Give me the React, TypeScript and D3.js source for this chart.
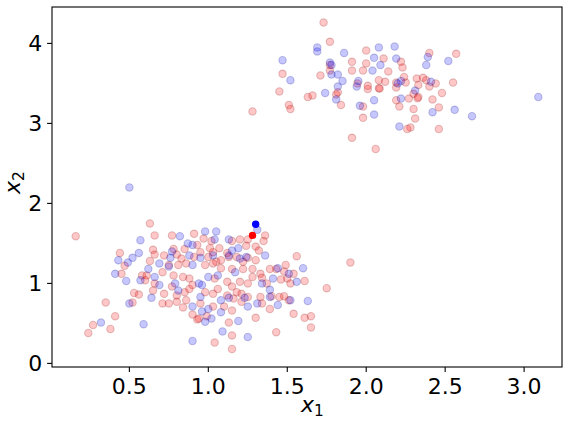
import React from 'react';
import * as d3 from 'd3';

// ---- data ----
const redPoints: [number, number][] = [
  // upper cluster
  [1.73,4.26],[1.77,4.02],[1.47,3.62],[1.45,3.40],[1.28,3.15],[1.51,3.23],[1.52,3.18],[1.63,3.33],[1.66,3.35],[1.71,3.60],
  [1.77,3.66],[1.77,3.73],[1.81,3.36],[1.82,3.39],[1.84,3.23],[1.91,3.77],[1.91,3.66],[2.00,3.91],[2.00,3.75],[1.98,3.66],
  [2.01,3.43],[2.01,3.47],[2.08,3.44],[2.085,3.435],[2.08,3.54],[2.11,3.81],[2.14,3.65],[2.12,3.52],[1.98,3.21],[1.98,3.07],
  [1.91,2.82],[2.06,2.68],[2.40,3.88],[2.57,3.87],[2.22,3.77],[2.23,3.70],[2.24,3.58],[2.19,3.51],[2.19,3.45],[2.25,3.51],
  [2.32,3.56],[2.36,3.57],[2.38,3.54],[2.44,3.50],[2.40,3.46],[2.33,3.48],[2.55,3.51],[2.48,3.38],[2.30,3.37],[2.33,3.33],
  [2.325,3.315],[2.19,3.29],[2.27,3.31],[2.42,3.30],[2.21,3.21],[2.30,3.18],[2.46,3.20],[2.31,3.06],[2.28,2.95],[2.26,2.93],
  [2.46,2.93],[1.945,3.50],
  // lower cluster
  [0.16,1.59],[0.63,1.75],[0.66,1.60],[0.44,1.38],[0.47,1.22],[0.65,1.42],[0.66,1.36],[0.63,1.28],[0.45,1.12],[0.58,1.10],
  [0.61,1.10],[0.60,1.04],[0.66,1.00],[0.53,0.88],[0.56,0.86],[0.65,0.91],[0.52,0.76],[0.35,0.76],[0.41,0.59],[0.27,0.48],
  [0.24,0.38],[0.38,0.43],[0.90,0.61],[0.93,0.55],[0.84,0.70],[0.91,1.62],[0.97,1.56],[1.15,1.53],[1.20,1.55],[1.25,1.55],
  [1.36,1.60],[1.35,1.53],[0.77,1.60],[0.78,1.43],[0.93,1.48],[1.01,1.44],[1.07,1.44],[1.24,1.47],[1.30,1.46],[1.32,1.41],
  [0.85,1.43],[0.95,1.39],[1.03,1.39],[1.12,1.38],[1.18,1.33],[1.25,1.32],[0.72,1.35],[0.80,1.36],[0.83,1.31],[0.91,1.33],
  [1.00,1.33],[1.05,1.27],[1.08,1.29],[0.75,1.23],[0.81,1.23],[0.86,1.25],[0.98,1.23],[1.03,1.25],[1.08,1.19],[1.15,1.18],
  [1.22,1.18],[1.28,1.18],[1.33,1.12],[1.34,1.07],[1.39,1.18],[1.43,1.18],[1.49,1.23],[1.48,1.15],[1.54,1.12],[0.71,1.14],
  [0.78,1.10],[0.84,1.08],[0.88,1.06],[0.90,0.98],[1.04,1.06],[1.12,1.02],[1.15,0.96],[1.20,1.02],[1.25,1.00],[1.18,0.89],
  [1.21,0.87],[1.28,1.08],[1.37,1.00],[0.72,0.87],[0.77,0.96],[0.85,0.89],[0.80,0.85],[0.88,0.93],[0.98,0.89],[1.03,0.87],
  [1.06,0.93],[1.12,0.85],[1.16,0.81],[1.25,0.83],[1.34,0.75],[1.45,0.83],[1.51,0.79],[0.71,0.75],[0.75,0.75],[0.80,0.77],
  [0.86,0.79],[0.95,0.75],[1.03,0.71],[1.15,0.66],[1.39,0.68],[1.56,1.34],[1.61,0.57],[1.30,0.57],[1.13,0.51],[1.15,0.35],
  [1.43,0.39],[1.04,0.26],[1.15,0.18],[0.94,0.56],[0.99,0.59],[1.54,0.62],[1.90,1.26],[1.61,1.03],[1.75,0.94],[1.65,0.59],
  [1.65,0.45],[1.02,1.53],[1.33,0.83],[1.40,0.84],[1.48,0.84],[1.21,0.77],[1.10,0.71],[1.46,1.05],[1.50,1.06],[1.52,1.00],
  [1.13,1.33],[1.30,1.29],[1.22,1.27],
];

const bluePoints: [number, number][] = [
  // upper cluster
  [1.47,3.79],[1.52,3.54],[1.69,3.95],[1.69,3.90],[1.86,3.88],[1.77,3.76],[1.78,3.73],[1.78,3.61],[1.82,3.61],[1.85,3.53],
  [1.82,3.46],[1.74,3.38],[1.81,3.30],[1.95,3.53],[1.94,3.46],[1.96,3.22],[2.05,3.29],[2.05,3.11],[2.04,3.66],[2.05,3.82],
  [2.08,3.95],[2.09,3.73],[2.18,3.96],[2.19,3.81],[2.39,3.83],[2.38,3.73],[2.52,3.78],[2.20,3.50],[2.22,3.53],[2.41,3.52],
  [2.31,3.41],[2.22,3.31],[2.42,3.14],[2.56,3.17],[2.67,3.09],[3.09,3.33],[2.21,2.96],
  // lower cluster
  [0.50,2.20],[0.57,1.54],[0.43,1.29],[0.56,1.38],[0.52,1.32],[0.49,1.26],[0.69,1.25],[0.62,1.18],[0.41,1.12],[0.48,1.03],
  [0.57,1.04],[0.66,1.08],[0.69,0.98],[0.64,0.82],[0.50,0.75],[0.32,0.51],[0.59,0.49],[0.90,0.28],[0.82,1.59],[1.04,1.55],
  [1.13,1.55],[0.87,1.50],[0.90,1.48],[1.19,1.44],[1.36,1.35],[1.13,1.35],[1.20,1.31],[0.76,1.32],[0.88,1.35],[0.95,1.32],
  [1.03,1.35],[0.75,1.21],[0.90,1.23],[1.17,1.14],[1.34,1.00],[1.44,1.19],[1.51,1.12],[0.79,1.00],[0.94,1.00],[0.96,0.98],
  [1.00,1.08],[1.06,1.10],[1.41,1.06],[0.81,0.91],[0.95,0.83],[1.08,0.79],[1.31,0.75],[1.39,0.83],[1.52,0.79],[0.90,0.71],
  [1.00,0.68],[1.08,0.64],[1.44,0.73],[1.31,1.67],[0.98,1.65],[1.05,1.65],[1.60,1.19],[1.19,0.53],[1.09,0.40],[1.25,0.33],
  [1.02,0.56],[0.98,0.52],[1.63,0.78],[0.77,1.40],[1.15,1.41],[1.24,1.33],[0.96,0.65],[1.25,0.71],[1.23,0.82],[1.13,0.82],
  [1.56,1.02],[1.39,0.92],
];

const highlightBlue: [number, number] = [1.30, 1.74];
const highlightRed: [number, number] = [1.28, 1.60];

const xTicks = [0.5, 1.0, 1.5, 2.0, 2.5, 3.0];
const xTickLabels = ['0.5', '1.0', '1.5', '2.0', '2.5', '3.0'];
const yTicks = [0, 1, 2, 3, 4];
const yTickLabels = ['0', '1', '2', '3', '4'];

// ---- layout ----
const W = 568;
const H = 424;
const left = 52, right = 562, top = 7, bottom = 367;
const FONT = 'DejaVu Sans, sans-serif';

export default function App() {
  const x = d3.scaleLinear().domain([0.01, 3.24]).range([left, right]);
  const y = d3.scaleLinear().domain([-0.045, 4.455]).range([bottom, top]);
  const r = 3.7;
  const tickLen = 4.9;

  return (
    <svg width={W} height={H} style={{ position: 'absolute', left: 0, top: 0, background: '#fff' }}>
      <defs>
        <clipPath id="plotclip">
          <rect x={left} y={top} width={right - left} height={bottom - top} />
        </clipPath>
      </defs>
      <rect x={0} y={0} width={W} height={H} fill="#fff" />
      <g clipPath="url(#plotclip)">
        {redPoints.map((p, i) => (
          <circle key={'r' + i} cx={x(p[0])} cy={y(p[1])} r={r}
            fill="#ff0000" fillOpacity={0.22} stroke="#800000" strokeOpacity={0.22} strokeWidth={1.1} />
        ))}
        {bluePoints.map((p, i) => (
          <circle key={'b' + i} cx={x(p[0])} cy={y(p[1])} r={r}
            fill="#0000ff" fillOpacity={0.22} stroke="#000080" strokeOpacity={0.22} strokeWidth={1.1} />
        ))}
        <circle cx={x(highlightBlue[0])} cy={y(highlightBlue[1])} r={3.7} fill="#0000ff" />
        <circle cx={x(highlightRed[0])} cy={y(highlightRed[1])} r={3.7} fill="#ff0000" />
      </g>
      <rect x={left} y={top} width={right - left} height={bottom - top} fill="none" stroke="#000" strokeWidth={1.1} />
      {xTicks.map((t, i) => (
        <g key={'xt' + i}>
          <line x1={x(t)} x2={x(t)} y1={bottom} y2={bottom + tickLen} stroke="#000" strokeWidth={1.1} />
          <text x={x(t)} y={bottom + 27} textAnchor="middle" fontFamily={FONT} fontSize={22} fill="#000">{xTickLabels[i]}</text>
        </g>
      ))}
      {yTicks.map((t, i) => (
        <g key={'yt' + i}>
          <line x1={left - tickLen} x2={left} y1={y(t)} y2={y(t)} stroke="#000" strokeWidth={1.1} />
          <text x={left - 9.8} y={y(t) + 8} textAnchor="end" fontFamily={FONT} fontSize={22} fill="#000">{yTickLabels[i]}</text>
        </g>
      ))}
      <text x={(left + right) / 2 - 6} y={412} fontFamily={FONT} fontSize={22} fill="#000">
        <tspan fontStyle="italic">x</tspan>
        <tspan fontSize={15.4} dy={4}>1</tspan>
      </text>
      <text transform={`translate(20,${(top + bottom) / 2 + 7}) rotate(-90)`} fontFamily={FONT} fontSize={22} fill="#000">
        <tspan fontStyle="italic">x</tspan>
        <tspan fontSize={15.4} dy={4}>2</tspan>
      </text>
    </svg>
  );
}
